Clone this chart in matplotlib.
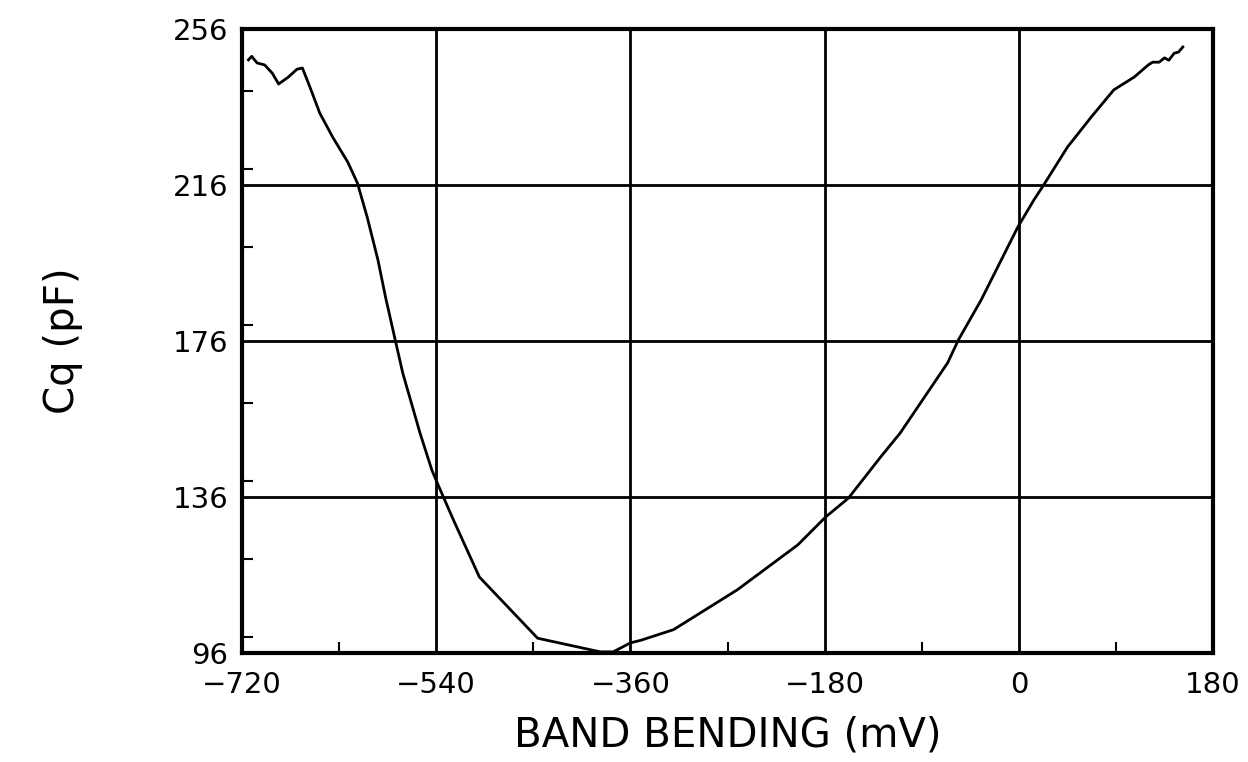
import matplotlib
matplotlib.use("Agg")
import matplotlib.pyplot as plt
from matplotlib.ticker import MultipleLocator

# Quantum capacitance versus band bending
band_bending_mv = [-714, -711, -706, -699, -692, -686, -677, -669, -664, -657,
                   -648, -636, -622, -613, -604, -594, -587, -578, -571, -555,
                   -544, -539, -524, -500, -446, -388, -376, -360, -350, -320,
                   -261, -205, -179, -158, -128, -110, -66, -56, -35, -1,
                   14, 23, 45, 67, 88, 107, 120, 124, 130, 135,
                   139, 144, 148, 152]
cq_pf = [248.1, 249.0, 247.3, 246.8, 244.7, 241.9, 243.7, 245.7, 246.0, 241.1,
         234.5, 228.3, 221.9, 216.5, 207.8, 196.8, 187.3, 176.3, 167.8, 152.4,
         142.9, 139.6, 130.1, 115.5, 99.8, 96.3, 96.3, 98.6, 99.3, 102.0,
         112.2, 123.7, 130.9, 135.7, 146.3, 152.4, 170.4, 176.3, 186.5, 205.2,
         212.2, 216.0, 225.7, 233.4, 240.4, 243.7, 246.8, 247.5, 247.5, 248.6,
         248.0, 249.8, 250.1, 251.4]

x_ticks = [-720, -540, -360, -180, 0, 180]
y_ticks = [96, 136, 176, 216, 256]
x_grid = [-540, -360, -180, 0]
y_grid = [136, 176, 216]

fig = plt.figure(figsize=(12.48, 7.62), dpi=100)
ax = fig.add_axes([0.1939, 0.1430, 0.7781, 0.8189])

for gx in x_grid:
    ax.axvline(gx, color="black", lw=2.0, zorder=1)
for gy in y_grid:
    ax.axhline(gy, color="black", lw=2.0, zorder=1)

ax.plot(band_bending_mv, cq_pf, color="black", lw=2.0, zorder=2)

ax.set_xlim(-720, 180)
ax.set_ylim(96, 256)
ax.set_xticks(x_ticks)
ax.set_yticks(y_ticks)
ax.set_xticklabels([str(v).replace("-", "\u2212") for v in x_ticks])
ax.set_yticklabels([str(v) for v in y_ticks])
ax.xaxis.set_minor_locator(MultipleLocator(90))
ax.yaxis.set_minor_locator(MultipleLocator(20))

ax.tick_params(axis="both", which="major", direction="in", length=0,
               labelsize=21)
ax.tick_params(axis="y", which="major", pad=10)
ax.tick_params(axis="x", which="major", pad=13)
ax.tick_params(axis="both", which="minor", direction="in", length=8, width=1.5)

for sp in ax.spines.values():
    sp.set_linewidth(3.0)

ax.set_xlabel("BAND BENDING (mV)", fontsize=29, labelpad=12)
ax.set_ylabel("Cq (pF)", fontsize=29, labelpad=64)

fig.savefig("out.png", dpi=100)
